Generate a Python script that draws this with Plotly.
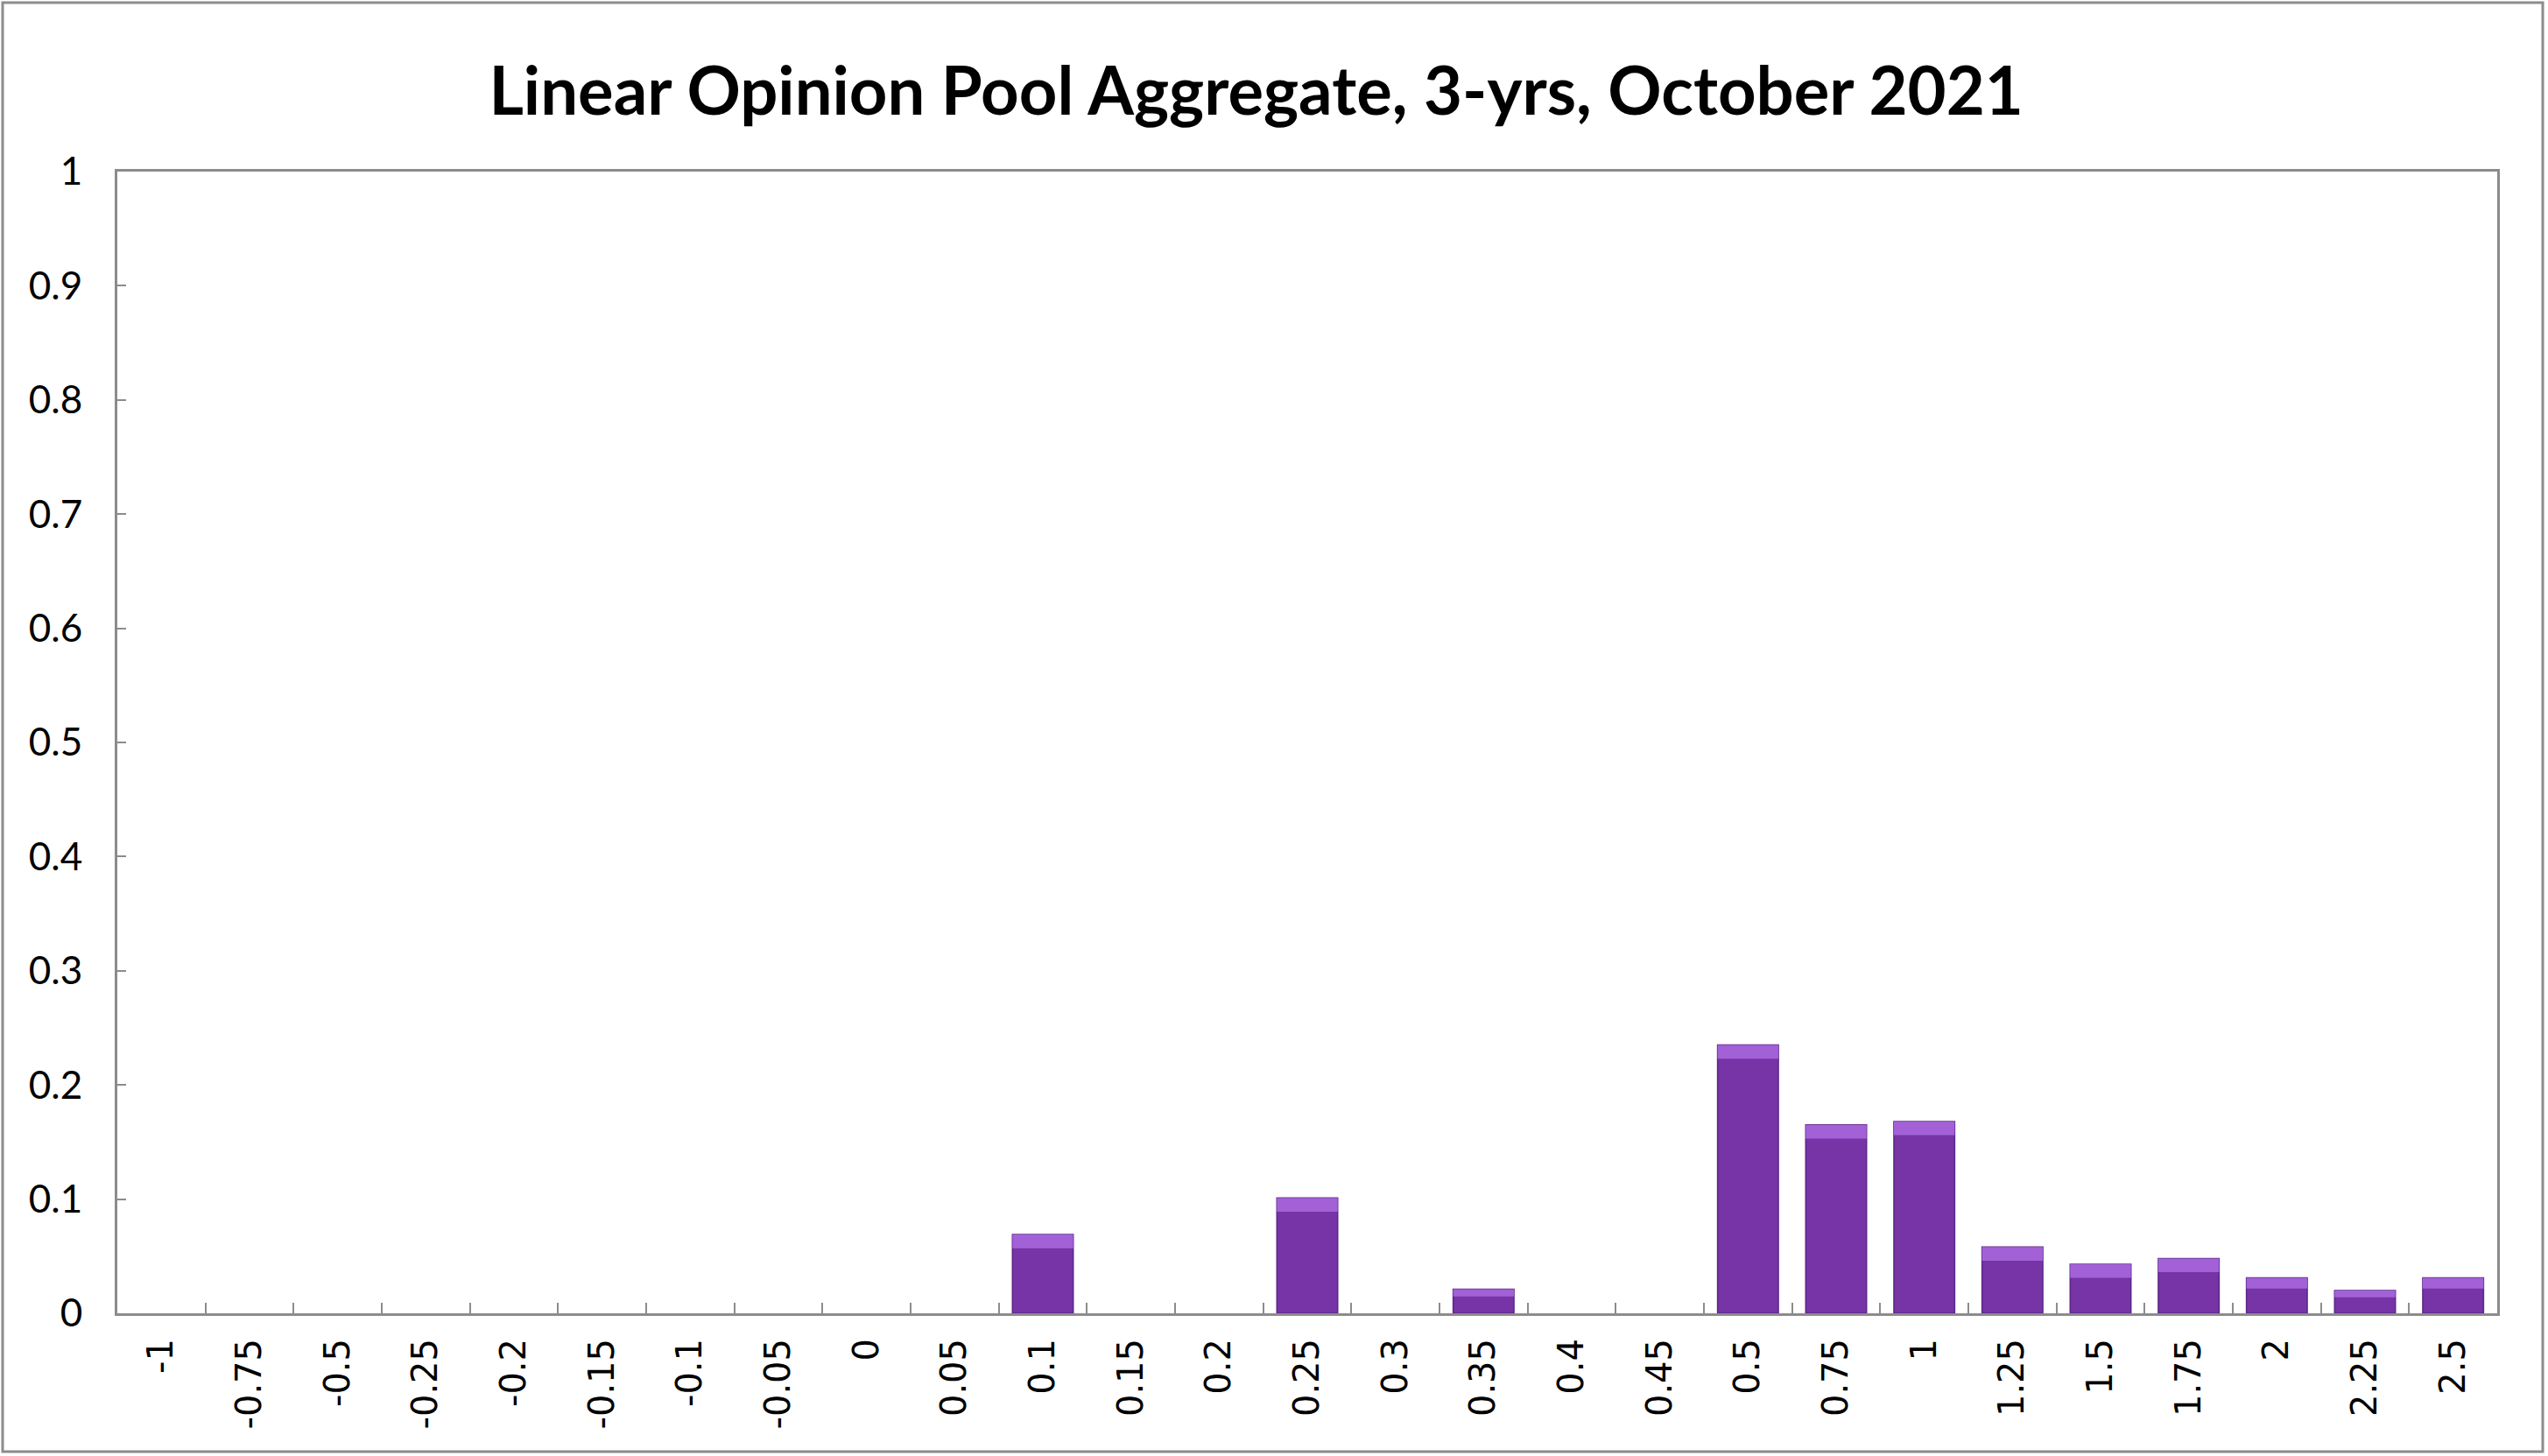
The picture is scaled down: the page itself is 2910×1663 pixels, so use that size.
import plotly.graph_objects as go

categories = ["-1", "-0.75", "-0.5", "-0.25", "-0.2", "-0.15", "-0.1", "-0.05", "0", "0.05",
              "0.1", "0.15", "0.2", "0.25", "0.3", "0.35", "0.4", "0.45", "0.5", "0.75",
              "1", "1.25", "1.5", "1.75", "2", "2.25", "2.5"]
values = [0, 0, 0, 0, 0, 0, 0, 0, 0, 0,
          0.069, 0, 0, 0.101, 0, 0.021, 0, 0, 0.235, 0.165,
          0.168, 0.058, 0.043, 0.048, 0.031, 0.020, 0.031]
y_ticks = [0, 0.1, 0.2, 0.3, 0.4, 0.5, 0.6, 0.7, 0.8, 0.9, 1]
title_text = "Linear Opinion Pool Aggregate, 3-yrs, October 2021"

W, H = 2910, 1663
ML, MR, MT, MB = 134, 58, 196, 163

# bevel highlight on top of each bar (style only)
bevel = [min(0.012, v * 0.3) for v in values]
bevel_base = [v - b for v, b in zip(values, bevel)]
line_w = [1.5 if v > 0 else 0 for v in values]

fig = go.Figure()
fig.add_trace(go.Bar(
    x=categories, y=values,
    marker=dict(color="#7634A6", line=dict(color="#5C2786", width=line_w)),
    showlegend=False, hoverinfo="x+y",
))
fig.add_trace(go.Bar(
    x=categories, y=bevel, base=bevel_base,
    marker=dict(color="#A261D6", line=dict(width=0)),
    showlegend=False, hoverinfo="skip",
))

pw = W - ML - MR
ph = H - MT - MB
# outer chart border
fig.add_shape(type="rect", xref="paper", yref="paper",
              x0=(3 - ML) / pw, x1=(W - 6 - ML) / pw,
              y0=-(MB - 5) / ph,
              y1=1 + (MT - 3) / ph,
              line=dict(color="#8C8C8C", width=3), layer="below")

fig.update_layout(
    width=W, height=H,
    margin=dict(l=ML, r=MR, t=MT, b=MB),
    paper_bgcolor="white", plot_bgcolor="white",
    barmode="overlay", bargap=0.31,
    title=dict(text="<b>" + title_text + "</b>", x=0.493, xanchor="center",
               y=1 - 104 / H, yanchor="middle",
               font=dict(family="Lato", size=76, color="black")),
    xaxis=dict(
        type="category", categoryorder="array", categoryarray=categories,
        tickmode="array", tickvals=categories, ticktext=categories,
        tickangle=-90, tickson="boundaries", ticks="inside", ticklen=12,
        tickwidth=2, tickcolor="#8C8C8C",
        showline=True, linecolor="#8C8C8C", linewidth=3, mirror=True,
        showgrid=False, zeroline=False,
        tickfont=dict(family="DejaVu Sans", size=40, color="black"),
        ticklabelstandoff=10,
    ),
    yaxis=dict(
        range=[0, 1], tickmode="array", tickvals=y_ticks,
        ticktext=[("%g" % v) for v in y_ticks],
        ticks="inside", ticklen=10, tickwidth=2, tickcolor="#8C8C8C",
        showline=True, linecolor="#8C8C8C", linewidth=3, mirror=True,
        showgrid=False, zeroline=False,
        tickfont=dict(family="Lato", size=44, color="black"),
        ticklabelstandoff=28,
    ),
)

fig.write_html("out.html")
